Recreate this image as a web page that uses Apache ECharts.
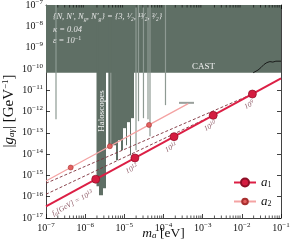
<!DOCTYPE html>
<html><head><meta charset="utf-8">
<script src="https://cdn.jsdelivr.net/npm/echarts@6/dist/echarts.min.js"></script>
<style>html,body{margin:0;padding:0;background:#fff}#c{width:293px;height:248px}</style>
</head><body><div id="c"></div>
<script>
// ---------------- data ----------------
const xTickExp = [-7, -6, -5, -4, -3, -2, -1];
const yTickExp = [-17, -16, -15, -14, -13, -12, -11, -10, -9, -8, -7];
const xMin = 1e-7, xMax = 1e-1, yMin = 1e-17, yMax = 1e-7;

// a1 benchmark points (f_a = 10^13 ... 10^9 GeV)
const a1Mass = [1.86e-6, 1.86e-5, 1.86e-4, 1.86e-3, 1.86e-2];
const a1Coupling = [6.6e-16, 6.6e-15, 6.6e-14, 6.6e-13, 6.6e-12];
const faExp = ['13', '12', '11', '10', '9'];
const a1LineMass = [1e-7, 1e-1];
const a1LineG = [3.55e-17, 3.55e-11];

// a2 points
const a2Mass = [4.27e-7, 4.27e-6, 4.27e-5];
const a2Coupling = [2.34e-15, 2.34e-14, 2.34e-13];
const a2LineMass = [1e-7, 4.27e-4];
const a2LineG = [5.48e-16, 2.34e-12];

// dashed lines
const d1Mass = [1e-7, 1.86e-2];
const d1G = [4.27e-16, 6.6e-12];
const d2Mass = [1e-7, 1.86e-3];
const d2G = [1.3e-16, 6.6e-13];

// CAST
const castLo = [1e-7], castHi = [1e-1], castG = [6.6e-11];
const castCurveMass = [0.0195, 0.0217, 0.0258, 0.0307, 0.0366, 0.0436, 0.052, 0.062, 0.074, 0.1];
const castCurveG = [6.6e-11, 7.0e-11, 8.8e-11, 1.15e-10, 1.6e-10, 1.98e-10, 2.2e-10, 2.09e-10, 2.3e-10, 2.3e-10];

// Haloscopes: filled bands (mass lo, hi, lower edge of exclusion)
const haloLo = [1.947e-6, 2.254e-6, 2.852e-6, 3.90e-6, 4.60e-6, 6.124e-6, 6.889e-6, 8.217e-6, 9.243e-6, 1.103e-5, 1.169e-5, 1.395e-5, 1.479e-5];
const haloHi = [2.254e-6, 2.852e-6, 3.401e-6, 4.50e-6, 6.124e-6, 6.889e-6, 8.217e-6, 9.243e-6, 1.103e-5, 1.169e-5, 1.395e-5, 1.479e-5, 1.764e-5];
const haloG = [3.09e-16, 1.17e-16, 2.49e-16, 2.11e-14, 2.62e-14, 5.16e-15, 4.50e-14, 1.52e-14, 1.65e-13, 2.62e-14, 3.16e-13, 8.87e-15, 4.86e-13];
// Haloscopes: narrow single-frequency limits
const haloLineMass = [1.8e-7, 1.986e-5, 2.30e-5, 3.08e-5, 4.02e-5, 4.52e-5, 1.124e-4];
const haloLineG = [4.37e-13, 1.52e-14, 3.51e-13, 4.86e-13, 4.37e-13, 6.93e-14, 1.99e-12];
const haloSegMass = [2.486e-4, 6.0e-4];
const haloSegG = [2.55e-12, 2.55e-12];

// ---------------- style ----------------
const FILL = '#5f6f65';
const THIN = '#8e9a93';
const SERIF = '"Liberation Serif", "DejaVu Serif", serif';
const RED = '#dc1f45';
const PINK = '#f4a3a3';
const DASH = '#7d2f3a';
const LBL = '#8e5a66';

function pow10(exp) {
  const e = exp < 0 ? '−' + (-exp) : String(exp);
  return '{b|10}{s|' + e + '}';
}
const tickRich = {
  b: {fontFamily: SERIF, fontSize: 10, color: '#111'},
  s: {fontFamily: SERIF, fontSize: 7, color: '#111', padding: [0, 0, 6, 0]}
};

function zip(xs, ys) { return xs.map((x, i) => [x, ys[i]]); }

function rectSeries(lo, hi, g, color, z) {
  return {
    type: 'custom', z: z, silent: true, clip: true,
    data: lo.map((l, i) => [l, hi[i], g[i]]),
    encode: {x: [0, 1], y: 2},
    renderItem: function (params, api) {
      const a = api.coord([api.value(0), api.value(2)]);
      const b = api.coord([api.value(1), yMax]);
      return {type: 'rect', shape: {x: a[0], y: b[1], width: Math.max(1, b[0] - a[0]), height: a[1] - b[1]},
        style: {fill: color}};
    }
  };
}

// minor ticks (2..9 x decade) on bottom/top axes
const minorTicks = [];
for (let n = -7; n < -1; n++) for (let k = 2; k <= 9; k++) minorTicks.push([k * Math.pow(10, n), yMin]);

const a1LineData = zip(a1LineMass, a1LineG).map(v => ({value: v, symbol: 'none'}));
const a2LineData = [{value: [a2LineMass[0], a2LineG[0]], symbol: 'none'}]
  .concat(a2Mass.map((m, i) => ({value: [m, a2Coupling[i]]})))
  .concat([{value: [a2LineMass[1], a2LineG[1]], symbol: 'none'}]);

const labelRich = {
  i: {fontFamily: SERIF, fontStyle: 'italic', fontSize: 7.5, fill: LBL},
  sb: {fontFamily: SERIF, fontStyle: 'italic', fontSize: 5.5, fill: LBL, padding: [3, 0, 0, 0]},
  n: {fontFamily: SERIF, fontStyle: 'italic', fontSize: 7.5, fill: LBL},
  sp: {fontFamily: SERIF, fontStyle: 'italic', fontSize: 5.5, fill: LBL, padding: [0, 0, 4, 0]}
};

const chart = echarts.init(document.getElementById('c'), null, {renderer: 'canvas'});

const legendRich = {
  i: {fontFamily: SERIF, fontStyle: 'italic', fontSize: 13, color: '#111'},
  sb: {fontFamily: SERIF, fontSize: 8, color: '#111', padding: [5, 0, 0, 0]}
};

const option = {
  animation: false,
  backgroundColor: '#fff',
  grid: {left: 46, right: 12, top: 5, bottom: 30, containLabel: false, outerBoundsMode: 'none'},
  xAxis: [{
    type: 'log', logBase: 10, min: xMin, max: xMax, interval: 1,
    axisLine: {onZero: false, lineStyle: {color: '#111', width: 0.8}},
    axisTick: {inside: true, length: 4, lineStyle: {color: '#111', width: 0.8}},
    axisLabel: {margin: 4, formatter: v => {
      const e = Math.round(Math.log10(v));
      return xTickExp.includes(e) ? pow10(e) : '';
    }, rich: tickRich},
    splitLine: {show: false}
  }, {
    type: 'log', logBase: 10, min: xMin, max: xMax, interval: 1, position: 'top',
    axisLine: {onZero: false, lineStyle: {color: '#111', width: 0.8}},
    axisTick: {inside: true, length: 4, lineStyle: {color: '#111', width: 0.8}},
    axisLabel: {show: false}, splitLine: {show: false}
  }],
  yAxis: [{
    type: 'log', logBase: 10, min: yMin, max: yMax, interval: 1,
    axisLine: {onZero: false, lineStyle: {color: '#111', width: 0.8}},
    axisTick: {inside: true, length: 4, lineStyle: {color: '#111', width: 0.8}},
    axisLabel: {margin: 3, formatter: v => {
      const e = Math.round(Math.log10(v));
      return yTickExp.includes(e) ? pow10(e) : '';
    }, rich: tickRich},
    splitLine: {show: false}
  }, {
    type: 'log', logBase: 10, min: yMin, max: yMax, interval: 1, position: 'right',
    axisLine: {onZero: false, lineStyle: {color: '#111', width: 0.8}},
    axisTick: {inside: true, length: 4, lineStyle: {color: '#111', width: 0.8}},
    axisLabel: {show: false}, splitLine: {show: false}
  }],
  legend: [{
    data: ['a1'], left: 233, top: 176, orient: 'vertical', itemWidth: 22, itemHeight: 10,
    selectedMode: false, padding: 0,
    formatter: n => '{i|a}{sb|' + n.slice(1) + '}',
    textStyle: {rich: legendRich}
  }, {
    data: ['a2'], left: 233, top: 195, orient: 'vertical', itemWidth: 22, itemHeight: 7,
    selectedMode: false, padding: 0,
    formatter: n => '{i|a}{sb|' + n.slice(1) + '}',
    textStyle: {rich: legendRich}
  }],
  graphic: [
    {type: 'text', x: 9, y: 111, rotation: Math.PI / 2, z: 100, style: {
      text: '{n||}{i|g}{sb|aγ}{n|| [GeV}{sp|−1}{n|]}', align: 'center', verticalAlign: 'middle',
      rich: {
        i: {fontFamily: SERIF, fontStyle: 'italic', fontSize: 15, fill: '#111'},
        sb: {fontFamily: SERIF, fontStyle: 'italic', fontSize: 9, fill: '#111', padding: [6, 0, 0, 0]},
        sp: {fontFamily: SERIF, fontSize: 9, fill: '#111', padding: [0, 0, 7, 0]},
        n: {fontFamily: SERIF, fontSize: 15, fill: '#111'}
      }
    }},
    {type: 'text', x: 163.5, y: 233, z: 100, style: {
      text: '{i|m}{sb|a}{n| [eV]}', align: 'center', verticalAlign: 'middle',
      rich: {
        i: {fontFamily: SERIF, fontStyle: 'italic', fontSize: 13.5, fill: '#111'},
        sb: {fontFamily: SERIF, fontStyle: 'italic', fontSize: 9, fill: '#111', padding: [5, 0, 0, 0]},
        n: {fontFamily: SERIF, fontSize: 13.5, fill: '#111'}
      }
    }},
    {type: 'text', x: 53, y: 17, z: 100, style: {
      text: '{N, N′, N{s|g}, N′{s|g}} = {3, ¹⁄₂, ¹³⁄₂, ³⁄₂}',
      verticalAlign: 'middle', fill: '#e6e6e6',
      font: 'italic 8.5px ' + SERIF,
      rich: {s: {fontFamily: SERIF, fontStyle: 'italic', fontSize: 6, fill: '#e6e6e6', padding: [4, 0, 0, 0]}}
    }},
    {type: 'text', x: 53, y: 29.5, z: 100, style: {text: 'κ = 0.04', verticalAlign: 'middle', fill: '#e6e6e6', font: 'italic 8.5px ' + SERIF}},
    {type: 'text', x: 53, y: 40.5, z: 100, style: {
      text: 'ε = 10{s|−1}', verticalAlign: 'middle', fill: '#e6e6e6', font: 'italic 8.5px ' + SERIF,
      rich: {s: {fontFamily: SERIF, fontSize: 6, fill: '#e6e6e6', padding: [0, 0, 5, 0]}}
    }},
    {type: 'text', x: 203.5, y: 67, z: 100, style: {text: 'CAST', align: 'center', verticalAlign: 'middle', fill: '#f2f2f2', font: '9px ' + SERIF}},
    {type: 'text', x: 101.5, y: 111, z: 100, rotation: Math.PI / 2, style: {text: 'Haloscopes', align: 'center', verticalAlign: 'middle', fill: '#f2f2f2', font: '9px ' + SERIF}}
  ],
  series: [
    rectSeries(castLo, castHi, castG, FILL, 1),
    rectSeries(haloLo, haloHi, haloG, FILL, 1),
    {type: 'custom', z: 2, silent: true, clip: true, data: zip(haloLineMass, haloLineG), encode: {x: 0, y: 1},
      renderItem: function (params, api) {
        const a = api.coord([api.value(0), api.value(1)]);
        const b = api.coord([api.value(0), yMax]);
        return {type: 'line', shape: {x1: a[0], y1: a[1], x2: b[0], y2: b[1]}, style: {stroke: THIN, lineWidth: 1.2}};
      }},
    {type: 'line', data: zip(haloSegMass, haloSegG), symbol: 'none', z: 2, silent: true,
      lineStyle: {color: '#9aa09c', width: 2}},
    {type: 'line', data: zip(castCurveMass, castCurveG), symbol: 'none', z: 3, silent: true,
      lineStyle: {color: '#111', width: 0.9}},
    {type: 'custom', z: 10, silent: true, clip: false, data: minorTicks, encode: {x: 0, y: 1},
      renderItem: function (params, api) {
        const b = api.coord([api.value(0), yMin]);
        const t = api.coord([api.value(0), yMax]);
        return {type: 'group', children: [
          {type: 'line', shape: {x1: b[0], y1: b[1], x2: b[0], y2: b[1] - 2.5}, style: {stroke: '#111', lineWidth: 0.7}},
          {type: 'line', shape: {x1: t[0], y1: t[1], x2: t[0], y2: t[1] + 2.5}, style: {stroke: '#111', lineWidth: 0.7}}
        ]};
      }},
    {type: 'line', name: 'd1', data: zip(d1Mass, d1G), symbol: 'none', z: 4, silent: true,
      lineStyle: {color: DASH, width: 0.9, type: [3, 2]}},
    {type: 'line', name: 'd2', data: zip(d2Mass, d2G), symbol: 'none', z: 4, silent: true,
      lineStyle: {color: DASH, width: 0.9, type: [3, 2]}},
    {type: 'line', name: 'a2', data: a2LineData, z: 5, symbol: 'circle', symbolSize: 5, showAllSymbol: true,
      lineStyle: {color: PINK, width: 1.3},
      itemStyle: {color: '#e4605f', borderColor: '#a83030', borderWidth: 0.6}},
    {type: 'line', name: 'a1', data: a1LineData, z: 6, symbol: 'circle', symbolSize: 8,
      lineStyle: {color: RED, width: 2},
      itemStyle: {color: '#d41c40', borderColor: '#8e0f26', borderWidth: 0.7}},
    {type: 'scatter', name: 'a1 points', data: zip(a1Mass, a1Coupling), z: 7, symbol: 'circle', symbolSize: 8,
      itemStyle: {color: '#d41c40', borderColor: '#8e0f26', borderWidth: 0.7, opacity: 1}},
    // f_a labels along the a1 line, placed via the axes' coordinate mapping
    {type: 'custom', z: 8, silent: true, clip: false, data: zip(a1Mass, a1Coupling), encode: {x: 0, y: 1},
      renderItem: function (params, api) {
        const i = params.dataIndex;
        const p = api.coord([api.value(0), api.value(1)]);
        const first = i === 0;
        const off = first ? [-23, 24] : [-3, 11];
        return {type: 'text', x: p[0] + off[0], y: p[1] + off[1], rotation: 28.5 * Math.PI / 180,
          style: {
            text: first ? '{i|f}{sb|a}{n|[GeV] = 10}{sp|' + faExp[i] + '}' : '{n|10}{sp|' + faExp[i] + '}',
            align: 'center', verticalAlign: 'middle', rich: labelRich
          }};
      }}
  ]
};
chart.setOption(option);
</script>
</body></html>
